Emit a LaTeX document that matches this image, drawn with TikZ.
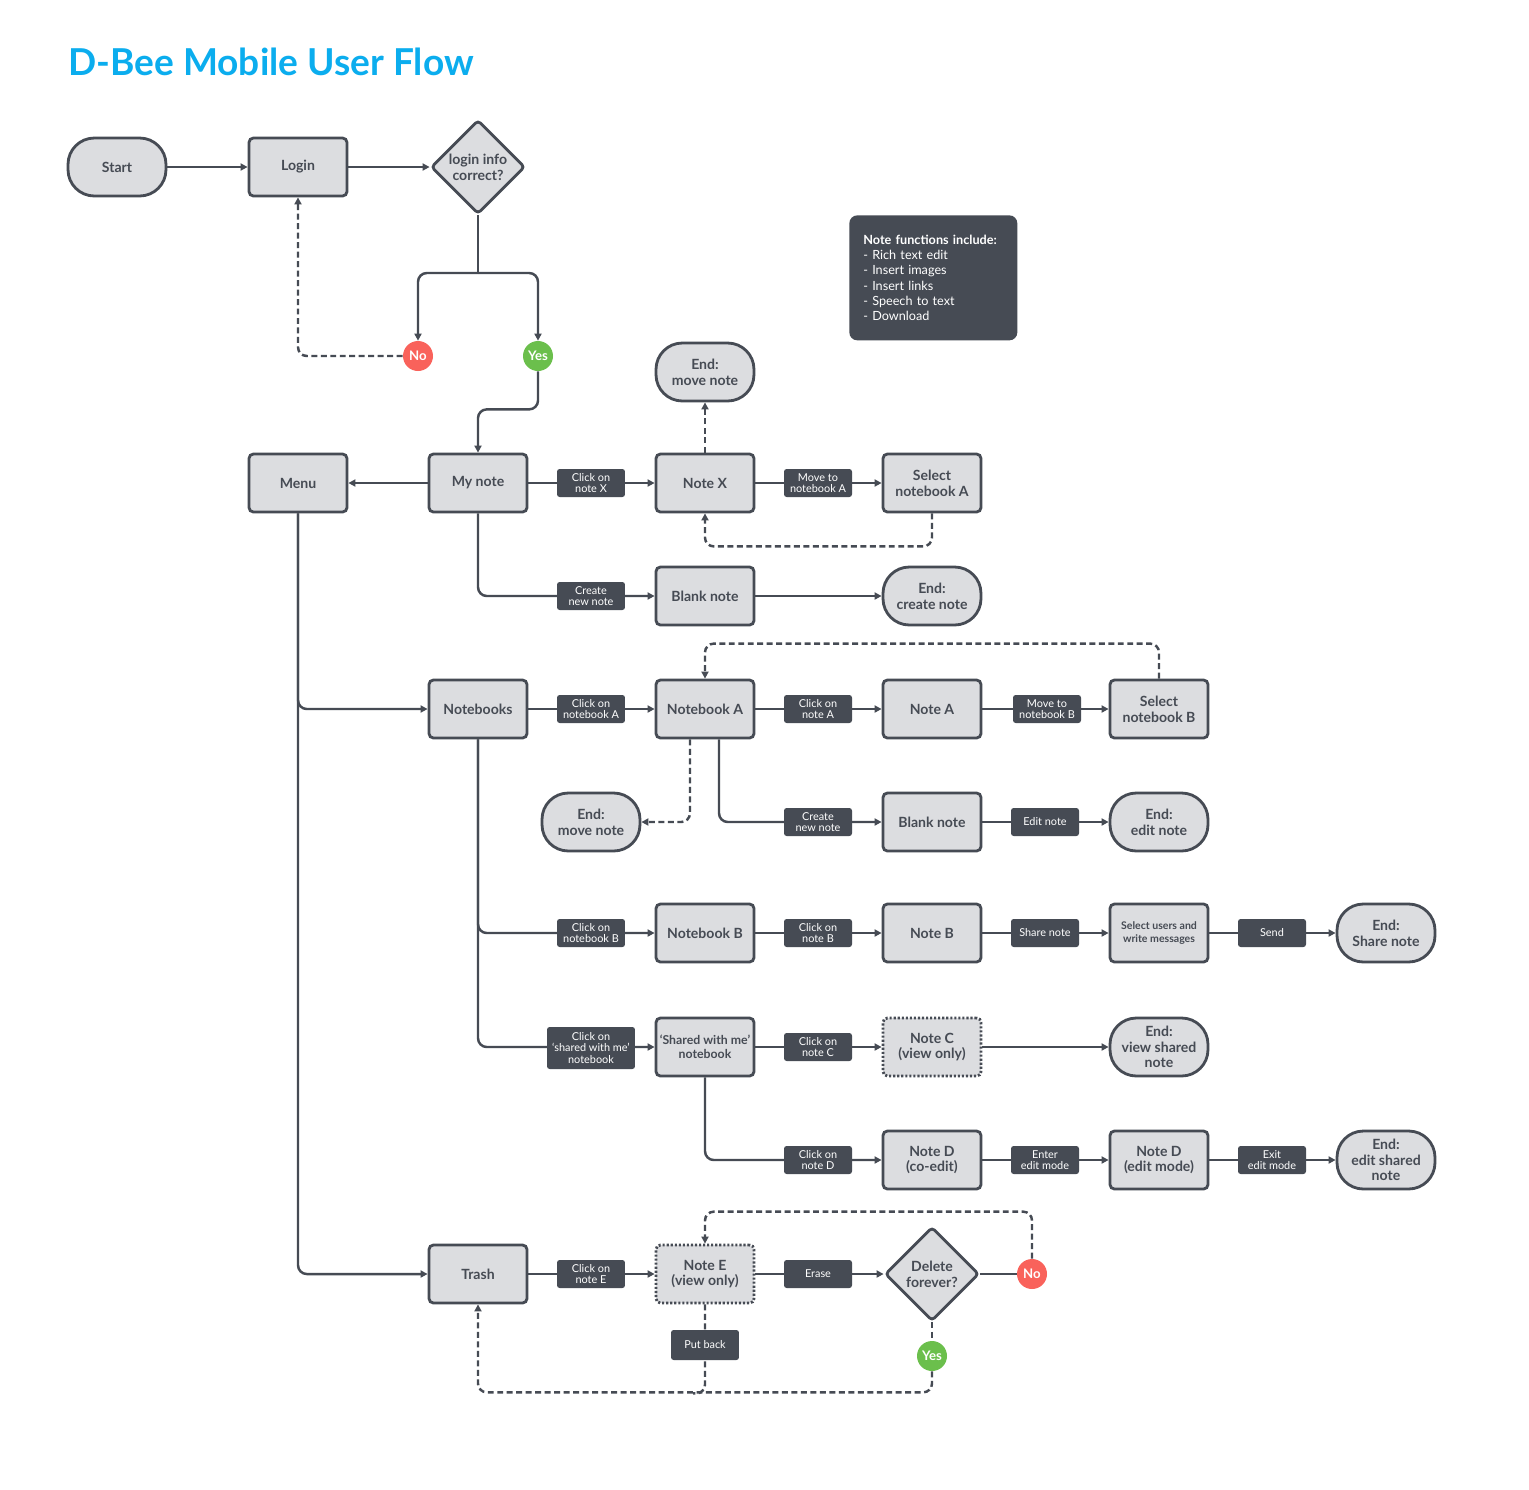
\documentclass[tikz,border=0pt]{standalone}
\usepackage{fontspec}
\setmainfont{Lato}
\newfontfamily\titlefont{Lato}
\usetikzlibrary{arrows.meta,shapes.geometric,backgrounds}
\definecolor{ink}{HTML}{464B54}
\definecolor{paper}{HTML}{DCDDE0}
\definecolor{sky}{HTML}{0BADEE}
\definecolor{nored}{HTML}{F9625B}
\definecolor{yesgreen}{HTML}{6BBF4C}
\tikzset{
  stepbox/.style={rectangle, rounded corners=2.5pt, draw=ink, fill=paper, line width=1.6pt, minimum width=1.96cm, minimum height=1.16cm, inner sep=1pt, align=center, text=ink, font=\bfseries\fontsize{8}{9}\selectfont},
  termbox/.style={stepbox, rounded corners=15pt},
  viewbox/.style={stepbox, dash pattern=on 1.2pt off 1.1pt},
  askbox/.style={diamond, draw=ink, fill=paper, line width=1.6pt, minimum width=1.88cm, minimum height=1.88cm, inner sep=0pt, rounded corners=2pt, align=center, text=ink, font=\bfseries\fontsize{8}{9}\selectfont},
  act/.style={rectangle, rounded corners=1.5pt, fill=ink, text=white, minimum width=1.36cm, minimum height=0.56cm, inner sep=1pt, align=center, font=\fontsize{6.2}{6.4}\selectfont},
  answer/.style={circle, minimum size=0.6cm, inner sep=0pt, text=white, font=\bfseries\fontsize{7.5}{8}\selectfont},
  wire/.style={draw=ink, line width=1.4pt, rounded corners=5pt},
  flow/.style={wire, -{Triangle[length=4pt,width=4pt]}},
  backwire/.style={wire, dash pattern=on 3.4pt off 2pt},
  backflow/.style={flow, dash pattern=on 3.4pt off 2pt},
}
\begin{document}
\begin{tikzpicture}[x=0.02cm, y=-0.02cm]
\useasboundingbox (0,0) rectangle (1529,1489);
\node[anchor=base west, inner sep=0pt, text=sky, font=\titlefont\bfseries\fontsize{21.1}{24}\selectfont] (title) at (68,75) {D-Bee Mobile User Flow};
% login
\node[termbox] (start) at (117,167) {Start};
\node[stepbox] (login) at (298,167) {Login};
\node[askbox] (loginq) at (478,167) {login info\\correct?};
\node[answer, fill=nored] (no) at (418,356) {No};
\node[answer, fill=yesgreen] (yes) at (538,356) {Yes};
\coordinate (split) at (478,273);
\node[anchor=north west, fill=ink, rounded corners=4.5pt, minimum width=3.36cm, minimum height=2.5cm, text width=2.8cm, inner xsep=0.28cm, align=left, text=white, font=\fontsize{7.2}{8.6}\selectfont] (funcs) at (849,215) {\mbox{\textbf{Note functions include:}}\\\mbox{- Rich text edit}\\\mbox{- Insert images}\\\mbox{- Insert links}\\\mbox{- Speech to text}\\\mbox{- Download}};
% my note
\node[stepbox] (menu) at (298,483) {Menu};
\node[stepbox] (mynote) at (478,483) {My note};
\node[stepbox] (noteX) at (705,483) {Note X};
\node[stepbox] (selA) at (932,483) {Select\\notebook A};
\node[termbox] (endmoveX) at (705,372) {End:\\move note};
\node[stepbox] (blankX) at (705,596) {Blank note};
\node[termbox] (endcreate) at (932,596) {End:\\create note};
% notebooks
\node[stepbox] (books) at (478,709) {Notebooks};
\node[stepbox] (bookA) at (705,709) {Notebook A};
\node[stepbox] (noteA) at (932,709) {Note A};
\node[stepbox] (selB) at (1159,709) {Select\\notebook B};
\node[termbox] (endmoveA) at (591,822) {End:\\move note};
\node[stepbox] (blankA) at (932,822) {Blank note};
\node[termbox] (endedit) at (1159,822) {End:\\edit note};
\node[stepbox] (bookB) at (705,933) {Notebook B};
\node[stepbox] (noteB) at (932,933) {Note B};
\node[stepbox, font=\bfseries\fontsize{6}{7.4}\selectfont] (users) at (1159,933) {Select users and\\write messages};
\node[termbox] (endshare) at (1386,933) {End:\\Share note};
\node[stepbox, font=\bfseries\fontsize{7}{8}\selectfont] (shared) at (705,1047) {`Shared with me'\\notebook};
\node[viewbox] (noteC) at (932,1047) {Note C\\(view only)};
\node[termbox] (endview) at (1159,1047) {End:\\view shared\\note};
\node[stepbox] (noteD) at (932,1160) {Note D\\(co-edit)};
\node[stepbox] (noteDe) at (1159,1160) {Note D\\(edit mode)};
\node[termbox] (endshared) at (1386,1160) {End:\\edit shared\\note};
% trash
\node[stepbox] (trash) at (478,1274) {Trash};
\node[viewbox] (noteE) at (705,1274) {Note E\\(view only)};
\node[askbox] (delq) at (932,1274) {Delete\\forever?};
\node[answer, fill=nored] (no2) at (1032,1274) {No};
\node[answer, fill=yesgreen] (yes2) at (932,1356) {Yes};
% action labels
\foreach \n/\x/\y/\t in {cX/591/483/{Click on\\note X}, mvA/818/483/{Move to\\notebook A}, newX/591/596/{Create\\new note},
  cbA/591/709/{Click on\\notebook A}, cnA/818/709/{Click on\\note A}, mvB/1047/709/{Move to\\notebook B},
  newA/818/822/{Create\\new note}, edit/1045/822/{Edit note},
  cbB/591/933/{Click on\\notebook B}, cnB/818/933/{Click on\\note B}, share/1045/933/{Share note}, send/1272/933/{Send},
  cnC/818/1047/{Click on\\note C}, cnD/818/1160/{Click on\\note D}, enter/1045/1160/{Enter\\edit mode}, exit/1272/1160/{Exit\\edit mode},
  cnE/591/1274/{Click on\\note E}, erase/818/1274/{Erase}}
  \node[act] (\n) at (\x,\y) {\t};
\node[act, minimum width=1.76cm, minimum height=0.84cm] (cShared) at (591,1048) {Click on\\`shared with me'\\notebook};
\node[act, minimum height=0.6cm] (putback) at (705,1345) {Put back};
% connectors
\begin{scope}[on background layer]
\fill[white] (0,0) rectangle (1529,1489);
\draw[flow] (start) -- (login);
\draw[flow] (login) -- (loginq);
\draw[wire] (loginq) -- (split);
\draw[flow] (split) -| (no);
\draw[flow] (split) -| (yes);
\draw[backflow] (no) -| (login);
\draw[flow] (yes.south) -- ++(0,38) -| (mynote);
\draw[flow] (mynote) -- (menu);
\draw[flow] (mynote) -- (noteX);
\draw[flow] (noteX) -- (selA);
\draw[backflow] (noteX) -- (endmoveX);
\draw[backflow] (selA.south) -- ++(0,33) -| (noteX.south);
\draw[flow] (mynote) |- (blankX);
\draw[flow] (blankX) -- (endcreate);
\draw[flow] (menu) |- (books);
\draw[flow] (menu) |- (trash);
\draw[flow] (books) -- (bookA);
\draw[flow] (bookA) -- (noteA);
\draw[flow] (noteA) -- (selB);
\draw[backflow] (selB.north) -- ++(0,-35) -| (bookA.north);
\draw[backflow] ([xshift=-0.3cm]bookA.south) |- (endmoveA);
\draw[flow] ([xshift=0.28cm]bookA.south) |- (blankA);
\draw[flow] (blankA) -- (endedit);
\draw[flow] (books) |- (bookB);
\draw[flow] (books) |- (shared);
\draw[flow] (bookB) -- (noteB);
\draw[flow] (noteB) -- (users);
\draw[flow] (users) -- (endshare);
\draw[flow] (shared) -- (noteC);
\draw[flow] (noteC) -- (endview);
\draw[flow] (shared) |- (noteD);
\draw[flow] (noteD) -- (noteDe);
\draw[flow] (noteDe) -- (endshared);
\draw[flow] (trash) -- (noteE);
\draw[flow] (noteE) -- (delq);
\draw[wire] (delq) -- (no2);
\draw[backflow] (no2.north) -- ++(0,-47) -| (noteE.north);
\draw[backwire] (delq) -- (yes2);
\draw[backflow] (yes2.south) -- ++(0,21) -| (trash.south);
\draw[backwire] (noteE.south) -- ++(0,89) -- ++(-12,0);
\end{scope}
\end{tikzpicture}
\end{document}
